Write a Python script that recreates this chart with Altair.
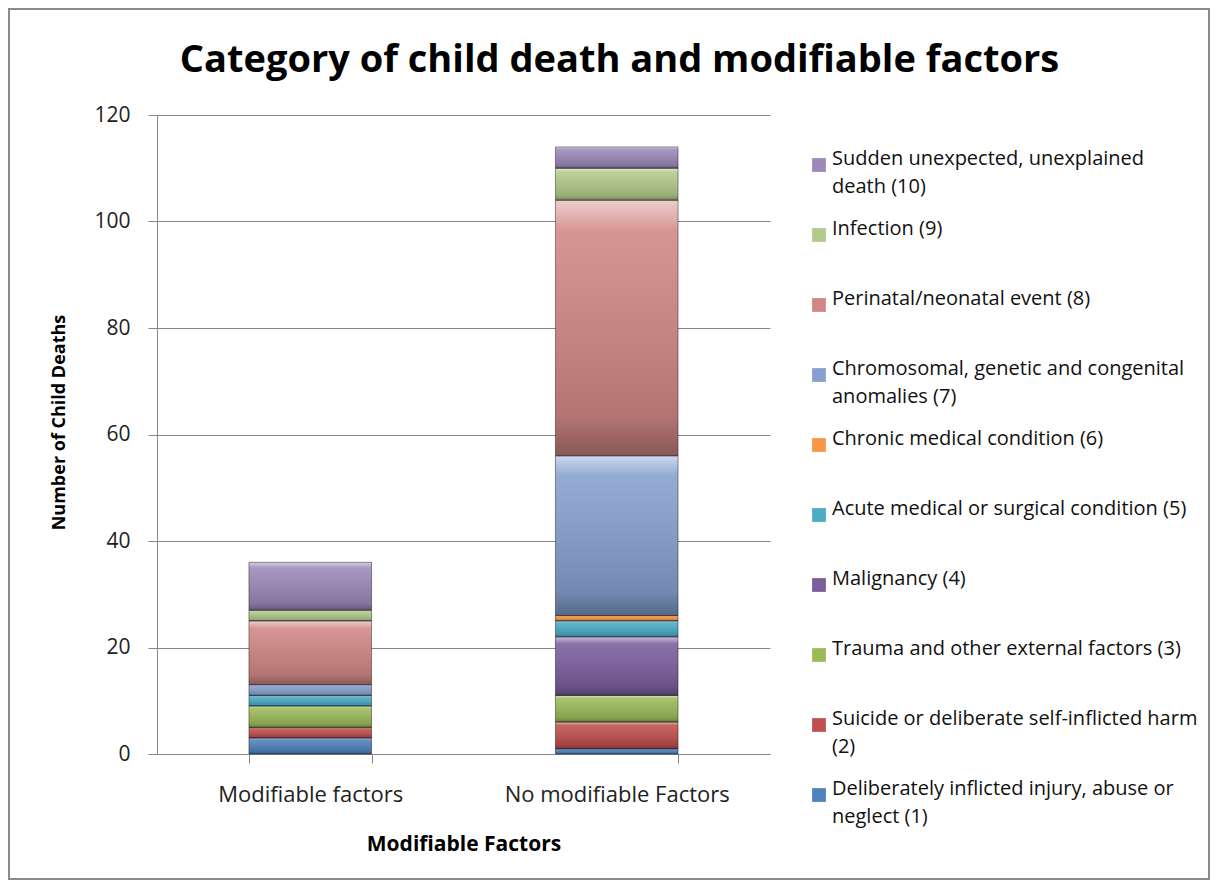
import altair as alt
import pandas as pd

factors = ["Modifiable factors", "No modifiable Factors"]
categories = [
    "Deliberately inflicted injury, abuse or neglect (1)",
    "Suicide or deliberate self-inflicted harm (2)",
    "Trauma and other external factors (3)",
    "Malignancy (4)",
    "Acute medical or surgical condition (5)",
    "Chronic medical condition (6)",
    "Chromosomal, genetic and congenital anomalies (7)",
    "Perinatal/neonatal event (8)",
    "Infection (9)",
    "Sudden unexpected, unexplained death (10)",
]
modifiable_values = [3, 2, 4, 0, 2, 0, 2, 12, 2, 9]
no_modifiable_values = [1, 5, 5, 11, 3, 1, 30, 48, 6, 4]
colors = ["#4F81BD", "#C0504D", "#9BBB59", "#7B5E9E", "#4BACC6", "#F79646",
          "#86A0CF", "#D08785", "#B3CA8B", "#9C89B9"]
y_ticks = [0, 20, 40, 60, 80, 100, 120]

wrapped = {
    "Sudden unexpected, unexplained death (10)": ["Sudden unexpected, unexplained", "death (10)"],
    "Chromosomal, genetic and congenital anomalies (7)": ["Chromosomal, genetic and congenital", "anomalies (7)"],
    "Suicide or deliberate self-inflicted harm (2)": ["Suicide or deliberate self-inflicted harm", "(2)"],
    "Deliberately inflicted injury, abuse or neglect (1)": ["Deliberately inflicted injury, abuse or", "neglect (1)"],
}

rows = []
for fac, vals in zip(factors, [modifiable_values, no_modifiable_values]):
    for i, (cat, v) in enumerate(zip(categories, vals)):
        rows.append({"factor": fac, "category": cat, "value": v, "idx": i})
df = pd.DataFrame(rows)

label_expr = "datum.label"
for k, parts in wrapped.items():
    arr = "[" + ", ".join("'" + p + "'" for p in parts) + "]"
    label_expr = f"datum.label == '{k}' ? {arr} : ({label_expr})"

FONT = "Open Sans"
GRAY = "#868686"

x_enc = alt.X("factor:N", sort=factors,
              scale=alt.Scale(paddingInner=0.6, paddingOuter=0.3),
              axis=alt.Axis(title="Modifiable Factors", labelAngle=0, tickBand="extent",
                            tickSize=9, tickColor=GRAY, domainColor=GRAY,
                            labelFont=FONT, labelFontSize=22, labelColor="#222222",
                            labelPadding=21, labelLimit=320,
                            titleFont=FONT, titleFontSize=21,
                            titleFontWeight="bold", titleColor="#000000", titlePadding=28,
                            grid=False))
y_enc = alt.Y("value:Q", stack="zero",
              scale=alt.Scale(domain=[0, 120], nice=False),
              axis=alt.Axis(title="Number of Child Deaths", values=y_ticks,
                            tickSize=9, tickColor=GRAY, domainColor=GRAY,
                            gridColor=GRAY, gridWidth=1,
                            labelFont=FONT, labelFontSize=21, labelColor="#222222",
                            labelPadding=18, titleFont=FONT, titleFontSize=18,
                            titleFontWeight="bold", titleColor="#000000", titlePadding=25,
                            titleY=307))

base = alt.Chart(df).transform_filter("datum.value > 0")

bars = base.mark_bar().encode(
    x=x_enc,
    y=y_enc,
    color=alt.Color("category:N",
                    scale=alt.Scale(domain=categories[::-1], range=colors[::-1]),
                    legend=alt.Legend(title=None, orient="none", legendX=652, legendY=40,
                                      symbolType="square", symbolSize=190, symbolStrokeWidth=0,
                                      labelFont=FONT, labelFontSize=20, labelColor="#111111",
                                      labelLimit=420, labelOffset=3, labelBaseline="alphabetic",
                                      labelExpr=label_expr, gridAlign="all", rowPadding=22,
                                      padding=0)),
    order=alt.Order("idx:Q", sort="ascending"),
)

shade = base.mark_bar(
    color=alt.Gradient(
        gradient="linear", x1=0, x2=0, y1=0, y2=1,
        stops=[alt.GradientStop(offset=0, color="rgba(255,255,255,0.6)"),
               alt.GradientStop(offset=0.12, color="rgba(255,255,255,0.12)"),
               alt.GradientStop(offset=0.85, color="rgba(0,0,0,0.14)"),
               alt.GradientStop(offset=1, color="rgba(0,0,0,0.35)")]),
    stroke="rgba(0,0,0,0.4)", strokeWidth=1,
).encode(
    x=alt.X("factor:N", sort=factors),
    y=alt.Y("value:Q", stack="zero"),
    detail="category:N",
    order=alt.Order("idx:Q", sort="ascending"),
)

frame = alt.Chart(pd.DataFrame({"f": [0]})).mark_rect(
    fill="white", fillOpacity=0, stroke="#8A8A8A", strokeWidth=2
).encode(x=alt.value(-148), x2=alt.value(1052), y=alt.value(-106), y2=alt.value(764))

chart = alt.layer(bars, shade, frame).properties(
    width=613, height=639,
    autosize=alt.AutoSizeParams(type="none"),
    padding={"left": 149, "top": 107, "right": 440, "bottom": 126},
    title=alt.TitleParams("Category of child death and modifiable factors",
                          font=FONT, fontSize=38, fontWeight="bold", color="#000000",
                          anchor="middle", frame="group", baseline="alphabetic",
                          dx=156, offset=-102),
).configure(
    background="white",
    view=alt.ViewConfig(strokeWidth=0),
    style={"guide-label": {"lineHeight": 28}},
)

chart.save("out.html", embed_options={"renderer": "svg", "actions": False})
